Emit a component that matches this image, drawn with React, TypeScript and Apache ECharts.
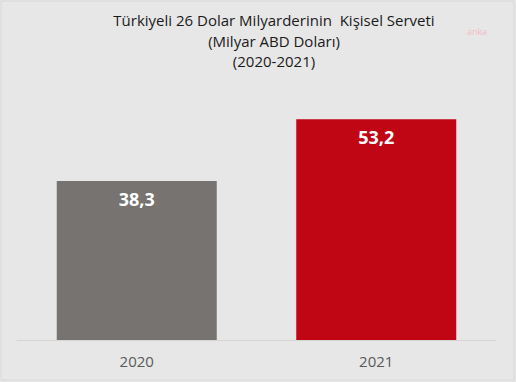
import React, { useEffect, useRef } from "react";
import * as echarts from "echarts";

const titleLines = ["Türkiyeli 26 Dolar Milyarderinin  Kişisel Serveti", "(Milyar ABD Doları)", "(2020-2021)"];
const categories = ["2020", "2021"];
const values = [38.3, 53.2];
const barColors = ["#767371", "#c00515"];

export default function App() {
  const ref = useRef<HTMLDivElement>(null);
  useEffect(() => {
    document.body.style.margin = "0";
    const chart = echarts.init(ref.current!, null, { renderer: "svg" });
    chart.setOption({
      animation: false,
      backgroundColor: "#e7e7e7",
      grid: { left: 17, right: 20, top: 91, bottom: 42, containLabel: false },
      xAxis: {
        type: "category",
        data: categories,
        axisLine: { show: true, lineStyle: { color: "#d4d4d4", width: 1 } },
        axisTick: { show: false },
        axisLabel: { color: "#595959", fontSize: 15, fontFamily: "Open Sans", margin: 13 },
      },
      yAxis: {
        type: "value",
        min: 0,
        max: 60,
        show: false,
        splitLine: { show: false },
      },
      series: [
        {
          type: "bar",
          barWidth: 160,
          data: values.map((v, i) => ({ value: v, itemStyle: { color: barColors[i] } })),
          label: {
            show: true,
            position: "insideTop",
            distance: 9,
            color: "#ffffff",
            fontSize: 18,
            fontWeight: "bold",
            fontFamily: "Open Sans",
            formatter: (p: any) => String(p.value).replace(".", ","),
          },
        },
      ],
      graphic: [
        {
          type: "rect",
          shape: { x: 1, y: 1, width: 513, height: 379 },
          style: { fill: "none", stroke: "#d8d8d8", lineWidth: 1 },
          silent: true,
        },
        ...titleLines.map((t, i) => ({
          type: "text",
          x: 274,
          y: 20 + i * 20.5,
          style: {
            text: t,
            fill: "#1a1a1a",
            fontSize: 15,
            fontFamily: "Open Sans",
            textAlign: "center",
            textVerticalAlign: "middle",
          },
        })),
        {
          type: "text",
          x: 477,
          y: 31,
          style: {
            text: "anka",
            fill: "#f2bcc5",
            fontSize: 9,
            fontFamily: "Open Sans",
            textAlign: "center",
            textVerticalAlign: "middle",
          },
        },
      ],
    });
    return () => chart.dispose();
  }, []);
  return <div ref={ref} style={{ position: "absolute", left: 0, top: 0, width: 516, height: 382 }} />;
}
